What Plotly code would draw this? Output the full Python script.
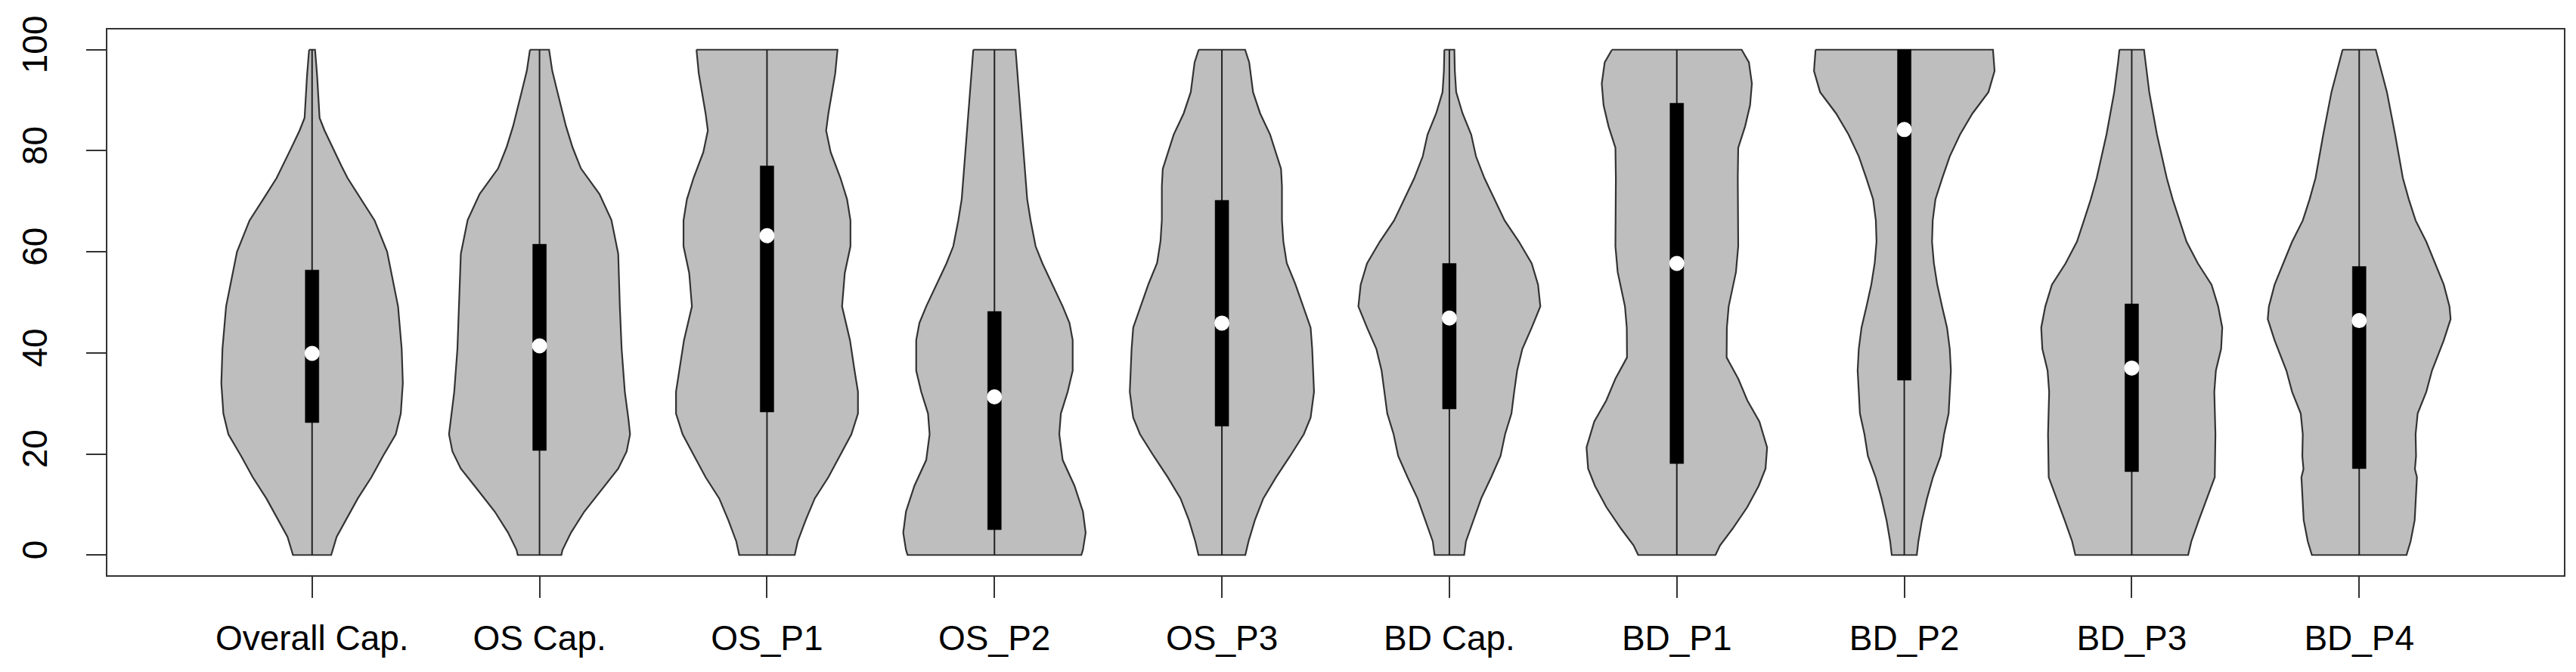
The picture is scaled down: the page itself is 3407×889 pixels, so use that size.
import plotly.graph_objects as go

categories = ["Overall Cap.", "OS Cap.", "OS_P1", "OS_P2", "OS_P3",
              "BD Cap.", "BD_P1", "BD_P2", "BD_P3", "BD_P4"]

# quartiles, medians, whisker ends (min / max)
q1 = [26.2, 20.7, 28.3, 5.0, 25.5, 28.9, 18.1, 34.6, 16.5, 17.1]
q3 = [56.4, 61.5, 77.0, 48.2, 70.2, 57.7, 89.4, 100.0, 49.7, 57.1]
medians = [39.9, 41.4, 63.2, 31.3, 45.9, 46.9, 57.7, 84.2, 37.0, 46.4]
whisk_lo = [0, 0, 0, 0, 0, 0, 0, 0, 0, 0]
whisk_hi = [100, 100, 100, 100, 100, 100, 100, 100, 100, 100]

# density profiles: value levels and half-widths (category units)
overall_y = [100, 95, 86.5, 84, 80.5, 77, 74.6, 70.4, 66.2, 60, 49.2, 40.8, 34, 28, 23.9, 19.6, 15.4, 11.2, 6.9, 3.6, 0]
overall_w = [0.013, 0.022, 0.033, 0.055, 0.092, 0.129, 0.156, 0.215, 0.275, 0.33, 0.378, 0.394, 0.399, 0.39, 0.368, 0.312, 0.261, 0.201, 0.148, 0.108, 0.084]

oscap_y = [100, 95.8, 91.6, 84.9, 80.7, 76.5, 71.4, 66.3, 59.6, 49.2, 40.8, 32.3, 27.2, 23.9, 20.5, 17.1, 12.9, 8.6, 4.4, 1, 0]
oscap_w = [0.042, 0.056, 0.079, 0.116, 0.145, 0.182, 0.264, 0.316, 0.346, 0.353, 0.361, 0.375, 0.39, 0.398, 0.383, 0.346, 0.272, 0.197, 0.138, 0.101, 0.096]

osp1_y = [100, 95.3, 91.6, 87.4, 84, 79.7, 74.6, 70.4, 66.2, 61.1, 55.8, 49.2, 42.5, 36.5, 32.3, 28, 23.9, 19.6, 15.4, 11.2, 6.9, 2.7, 0]
osp1_w = [0.31, 0.30, 0.286, 0.27, 0.26, 0.28, 0.323, 0.352, 0.367, 0.367, 0.342, 0.33, 0.365, 0.385, 0.4, 0.4, 0.371, 0.32, 0.27, 0.21, 0.17, 0.135, 0.122]

osp2_y = [100, 95.8, 87.4, 78.9, 70.4, 66.2, 61.1, 57.7, 53.5, 49.2, 45.9, 42.5, 36.5, 32.3, 28, 23.9, 18.8, 13.7, 8.6, 4.4, 1, 0]
osp2_w = [0.093, 0.1, 0.114, 0.129, 0.144, 0.159, 0.181, 0.211, 0.255, 0.3, 0.33, 0.344, 0.344, 0.322, 0.292, 0.285, 0.3, 0.352, 0.389, 0.401, 0.389, 0.382]

osp3_y = [100, 97.5, 91.6, 87.4, 83.2, 78.9, 76.4, 73, 66.3, 62.1, 57.8, 53.6, 49.2, 45, 40.8, 32.3, 27.2, 23.9, 19.6, 15.4, 11.2, 6.9, 2.7, 0]
osp3_w = [0.102, 0.12, 0.137, 0.168, 0.212, 0.242, 0.26, 0.264, 0.264, 0.27, 0.285, 0.323, 0.356, 0.39, 0.397, 0.405, 0.39, 0.36, 0.3, 0.238, 0.182, 0.145, 0.117, 0.103]

bdcap_y = [100, 95.8, 91.6, 87.4, 83.2, 78.9, 74.6, 70.4, 66.2, 62, 57.7, 53.5, 49.2, 45, 40.8, 36.5, 32.3, 28, 23.9, 19.6, 15.4, 11.2, 6.9, 2.7, 0]
bdcap_w = [0.022, 0.024, 0.03, 0.058, 0.096, 0.117, 0.154, 0.199, 0.243, 0.306, 0.362, 0.39, 0.4, 0.362, 0.321, 0.298, 0.285, 0.273, 0.245, 0.225, 0.184, 0.14, 0.106, 0.073, 0.065]

bdp1_y = [100, 97.5, 93.3, 89, 84.8, 80.6, 74.6, 66.2, 61.1, 56, 49.2, 45, 39.1, 34.9, 30.6, 26.4, 21.3, 17.1, 13.7, 9.5, 5.2, 1.9, 0]
bdp1_w = [0.285, 0.317, 0.33, 0.322, 0.3, 0.27, 0.268, 0.269, 0.27, 0.26, 0.228, 0.22, 0.219, 0.27, 0.31, 0.363, 0.397, 0.39, 0.36, 0.31, 0.245, 0.19, 0.17]

bdp2_y = [100, 95.8, 91.6, 87.4, 83.2, 78.9, 74.6, 70.4, 66.2, 62, 57.8, 53.5, 49.2, 45, 40.8, 36.5, 32.3, 28, 23.9, 19.6, 15.4, 11.2, 6.9, 2.7, 0]
bdp2_w = [0.39, 0.397, 0.37, 0.3, 0.245, 0.2, 0.167, 0.137, 0.125, 0.122, 0.13, 0.145, 0.166, 0.188, 0.2, 0.205, 0.2, 0.195, 0.175, 0.16, 0.126, 0.1, 0.078, 0.062, 0.055]

bdp3_y = [100, 97.5, 91.6, 83.2, 74.6, 70.4, 66.2, 62, 57.7, 53.5, 49.2, 45, 40.8, 36.5, 32.3, 23.9, 15.4, 11.2, 6.9, 2.7, 0]
bdp3_w = [0.054, 0.06, 0.077, 0.111, 0.154, 0.18, 0.21, 0.241, 0.291, 0.351, 0.38, 0.398, 0.393, 0.37, 0.363, 0.368, 0.365, 0.33, 0.295, 0.262, 0.248]

bdp4_y = [100, 95.8, 91.6, 83.2, 74.6, 70.4, 66.2, 62, 57.8, 53.5, 49.2, 46.7, 42.5, 36.5, 32.3, 28, 23.9, 19.6, 17, 15.4, 6.9, 2.7, 0]
bdp4_w = [0.073, 0.097, 0.122, 0.158, 0.192, 0.218, 0.248, 0.295, 0.334, 0.372, 0.397, 0.402, 0.372, 0.32, 0.295, 0.257, 0.248, 0.25, 0.245, 0.254, 0.244, 0.226, 0.208]

y_ticks = [0, 20, 40, 60, 80, 100]

profiles = [(overall_y, overall_w), (oscap_y, oscap_w), (osp1_y, osp1_w),
            (osp2_y, osp2_w), (osp3_y, osp3_w), (bdcap_y, bdcap_w),
            (bdp1_y, bdp1_w), (bdp2_y, bdp2_w), (bdp3_y, bdp3_w),
            (bdp4_y, bdp4_w)]

positions = list(range(1, len(categories) + 1))

FILL = "#BEBEBE"
EDGE = "#333333"
FONT = "Liberation Sans, Arial, sans-serif"
BOX_HALF = 0.03

fig = go.Figure()

for pos, (ys, ws) in zip(positions, profiles):
    xs = [pos - w for w in ws] + [pos + w for w in reversed(ws)]
    yy = list(ys) + list(reversed(ys))
    xs.append(xs[0])
    yy.append(yy[0])
    fig.add_trace(go.Scatter(x=xs, y=yy, mode="lines", fill="toself",
                             fillcolor=FILL, line=dict(color=EDGE, width=2.2),
                             hoverinfo="skip", showlegend=False))

# whiskers
for pos, lo, hi in zip(positions, whisk_lo, whisk_hi):
    fig.add_trace(go.Scatter(x=[pos, pos], y=[lo, hi], mode="lines",
                             line=dict(color="#222222", width=2),
                             hoverinfo="skip", showlegend=False))

# boxes (interquartile range)
for pos, a, b in zip(positions, q1, q3):
    fig.add_trace(go.Scatter(
        x=[pos - BOX_HALF, pos + BOX_HALF, pos + BOX_HALF, pos - BOX_HALF, pos - BOX_HALF],
        y=[a, a, b, b, a], mode="lines", fill="toself", fillcolor="black",
        line=dict(color="black", width=0.5), hoverinfo="skip", showlegend=False))

# medians
fig.add_trace(go.Scatter(x=positions, y=medians, mode="markers",
                         marker=dict(color="white", size=20, line=dict(width=0)),
                         hoverinfo="skip", showlegend=False))

fig.update_layout(
    width=3407, height=889,
    margin=dict(l=132, r=24, t=31, b=136),
    paper_bgcolor="white", plot_bgcolor="white",
    showlegend=False,
    font=dict(family=FONT, size=46, color="black"),
)
fig.update_xaxes(
    range=[0.1, 10.9], tickvals=positions, ticktext=categories,
    ticks="outside", ticklen=28, tickwidth=2, tickcolor=EDGE,
    showline=True, linecolor=EDGE, linewidth=2, mirror=True,
    showgrid=False, zeroline=False,
    tickfont=dict(family=FONT, size=46, color="black"),
    ticklabelstandoff=14,
)
fig.update_yaxes(
    range=[-4, 104], tickvals=y_ticks, ticktext=[str(v) for v in y_ticks],
    tickangle=-90,
    ticks="outside", ticklen=26, tickwidth=2, tickcolor=EDGE,
    showline=True, linecolor=EDGE, linewidth=2, mirror=True,
    showgrid=False, zeroline=False,
    tickfont=dict(family=FONT, size=46, color="black"),
    ticklabelstandoff=34,
)

fig.write_html("out.html")
